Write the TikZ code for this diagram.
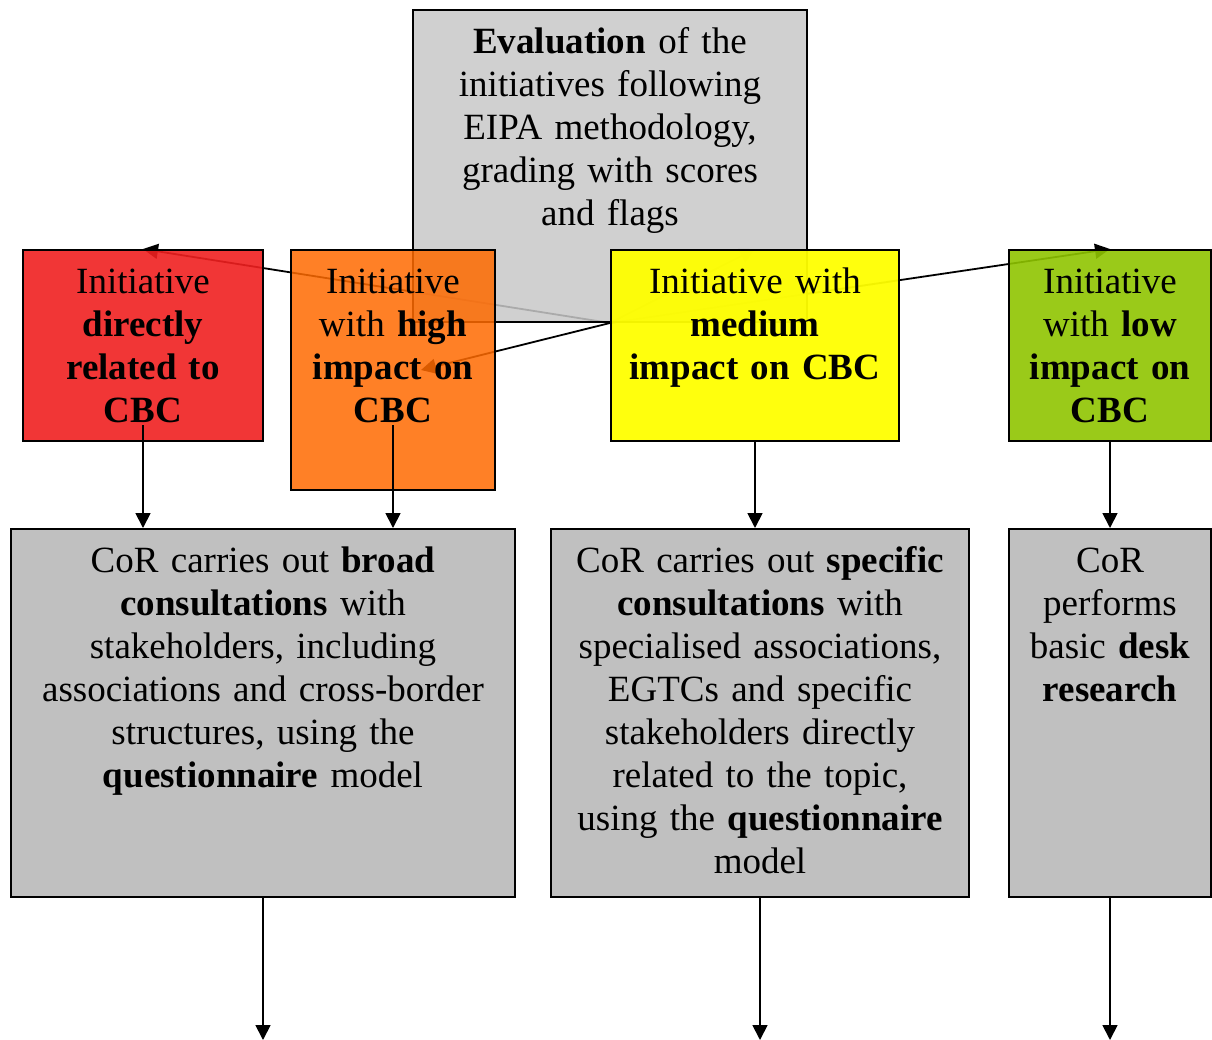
\documentclass[tikz,border=0pt]{standalone}
\usepackage{fontspec}
\setmainfont{Liberation Serif}
\usepackage{tikz}
\usetikzlibrary{arrows.meta, backgrounds}
\definecolor{evalgray}{HTML}{C8C8C8}
\definecolor{boxgray}{HTML}{C0C0C0}
\definecolor{cbcred}{HTML}{F02020}
\definecolor{cbcorange}{HTML}{FF6A00}
\definecolor{cbcyellow}{HTML}{FFFF00}
\definecolor{cbcgreen}{HTML}{8FC400}

\begin{document}
\begin{tikzpicture}[
      x=0.5pt, y=-0.5pt,
      box/.style={draw, line width=1pt, anchor=north west, inner sep=0pt},
      txt/.style={align=center, inner sep=0pt, anchor=base, text width=#1, font=\fontsize{18.5}{21.5}\selectfont},
      arrow/.style={-{Triangle[length=7.5pt, width=7.5pt]}, line width=0.9pt}
    ]
    \useasboundingbox (0,0) rectangle (1212,1040);

    % top: evaluation
    \node[box, fill=evalgray, fill opacity=0.85, minimum width=197pt, minimum height=156pt] (eval) at (412,9) {};
    \node[txt=197pt] (evalText) at ([yshift=-22pt]eval.north) {\textbf{Evaluation} of the\\initiatives following\\EIPA methodology,\\grading with scores\\and flags};

    % the four grades
    \node[box, fill=cbcred, fill opacity=0.9, minimum width=120pt, minimum height=95.5pt] (direct) at (22,249) {};
    \node[box, fill=cbcorange, fill opacity=0.85, minimum width=102pt, minimum height=120pt] (high) at (290,249) {};
    \node[box, fill=cbcyellow, fill opacity=0.95, minimum width=144pt, minimum height=95.5pt] (medium) at (610,249) {};
    \node[box, fill=cbcgreen, fill opacity=0.9, minimum width=101pt, minimum height=95.5pt] (low) at (1008,249) {};
    \node[txt=120pt] (directText) at ([yshift=-22pt]direct.north) {Initiative\\\textbf{directly}\\\textbf{related to}\\\textbf{CBC}};
    \node[txt=102pt] (highText) at ([yshift=-22pt]high.north) {Initiative\\with \textbf{high}\\\textbf{impact on}\\\textbf{CBC}};
    \node[txt=144pt] (mediumText) at ([yshift=-22pt]medium.north) {Initiative with\\\textbf{medium}\\\textbf{impact on CBC}};
    \node[txt=101pt] (lowText) at ([yshift=-22pt]low.north) {Initiative\\with \textbf{low}\\\textbf{impact on}\\\textbf{CBC}};

    % what CoR does
    \node[box, fill=boxgray, minimum width=252pt, minimum height=184pt] (broad) at (10,528) {};
    \node[box, fill=boxgray, minimum width=209pt, minimum height=184pt] (specific) at (550,528) {};
    \node[box, fill=boxgray, minimum width=101pt, minimum height=184pt] (desk) at (1008,528) {};
    \node[txt=252pt] (broadText) at ([yshift=-22pt]broad.north) {CoR carries out \textbf{broad}\\\textbf{consultations} with\\stakeholders, including\\associations and cross-border\\structures, using the\\\textbf{questionnaire} model};
    \node[txt=209pt] (specificText) at ([yshift=-22pt]specific.north) {CoR carries out \textbf{specific}\\\textbf{consultations} with\\specialised associations,\\EGTCs and specific\\stakeholders directly\\related to the topic,\\using the \textbf{questionnaire}\\model};
    \node[txt=101pt] (deskText) at ([yshift=-22pt]desk.north) {CoR\\performs\\basic \textbf{desk}\\\textbf{research}};

    % arrows out of the evaluation, under the boxes
    \coordinate (hub) at (medium.west |- eval.south);
    \begin{pgfonlayer}{background}
      \draw[arrow] (hub) -- (direct.north);
      \draw[arrow] (hub) -- ([xshift=14pt]high.center);
      \draw[arrow] (hub) -- (medium.north);
      \draw[arrow] (hub) -- (low.north);
    \end{pgfonlayer}

    \draw[arrow] ([yshift=8.5pt]direct.south) -- (direct.south |- broad.north);
    \draw[arrow] ([yshift=33pt]high.south) -- (high.south |- broad.north);
    \draw[arrow] (medium.south) -- (medium.south |- specific.north);
    \draw[arrow] (low.south) -- (low.south |- desk.north);

    \coordinate (bottomline) at (0,1040);
    \coordinate (outBroad) at (broad.south |- bottomline);
    \coordinate (outSpecific) at (specific.south |- bottomline);
    \coordinate (outDesk) at (desk.south |- bottomline);
    \draw[arrow] (broad.south) -- (outBroad);
    \draw[arrow] (specific.south) -- (outSpecific);
    \draw[arrow] (desk.south) -- (outDesk);
  \end{tikzpicture}
\end{document}
